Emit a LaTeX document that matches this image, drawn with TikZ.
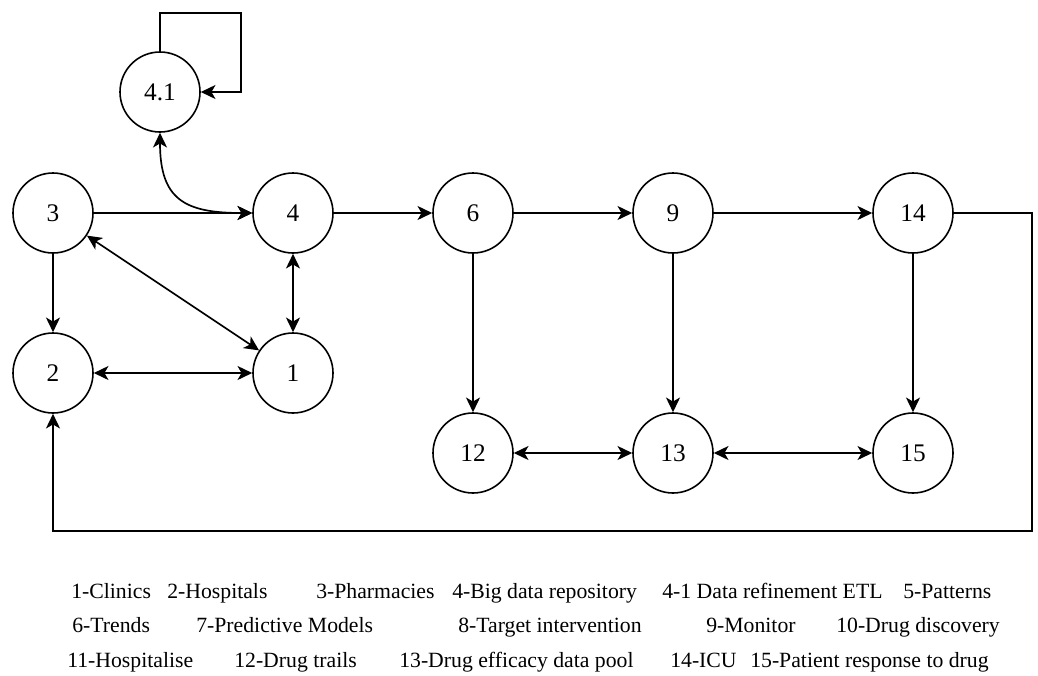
\documentclass[tikz,border=0pt]{standalone}
\usepackage{fontspec}
\setmainfont{Liberation Serif}
\usetikzlibrary{arrows.meta}
\begin{document}
\begin{tikzpicture}[x=0.75pt,y=-0.75pt,
  stn/.style={circle,draw,line width=1.2pt,minimum size=60pt,inner sep=0pt,font=\fontsize{19}{21}\selectfont},
  conn/.style={line width=1.25pt,-{Stealth[length=11pt,width=10.5pt,inset=3pt]}},
  bconn/.style={line width=1.25pt,{Stealth[length=11pt,width=10.5pt,inset=3pt]}-{Stealth[length=11pt,width=10.5pt,inset=3pt]}},
  leg/.style={anchor=base west,inner sep=0pt,font=\fontsize{16.3}{19}\selectfont}]
\useasboundingbox (0,0) rectangle (1038,675);
% nodes
\node[stn] (n41) at (160,92) {4.1};
\node[stn] (n3) at (53,213) {3};
\node[stn] (n4) at (293,213) {4};
\node[stn] (n6) at (473,213) {6};
\node[stn] (n9) at (673,213) {9};
\node[stn] (n14) at (913,213) {14};
\node[stn] (n2) at (53,373) {2};
\node[stn] (n1) at (293,373) {1};
\node[stn] (n12) at (473,453) {12};
\node[stn] (n13) at (673,453) {13};
\node[stn] (n15) at (913,453) {15};
% connectors
\draw[conn] (n41.north) -- (160,13) -- (241,13) -- (241,92) -- (n41.east);
\draw[bconn] (n41.south) .. controls (160,200) and (185,213) .. (n4.west);
\draw[conn] (n3) -- (n4);
\draw[conn] (n3) -- (n2);
\draw[bconn] (n3) -- (n1);
\draw[bconn] (n4) -- (n1);
\draw[bconn] (n2) -- (n1);
\draw[conn] (n4) -- (n6);
\draw[conn] (n6) -- (n9);
\draw[conn] (n9) -- (n14);
\draw[conn] (n6) -- (n12);
\draw[conn] (n9) -- (n13);
\draw[conn] (n14) -- (n15);
\draw[bconn] (n12) -- (n13);
\draw[bconn] (n13) -- (n15);
\draw[conn] (n14.east) -- (1032,213) -- (1032,531) -- (53,531) -- (n2.south);
% legend
\node[leg] (l1) at (71,598) {1-Clinics};
\node[leg] (l2) at (167,598) {2-Hospitals};
\node[leg] (l3) at (316,598) {3-Pharmacies};
\node[leg] (l4) at (452,598) {4-Big data repository};
\node[leg] (l41) at (662,598) {4-1 Data refinement ETL};
\node[leg] (l5) at (903,598) {5-Patterns};
\node[leg] (l6) at (72,632) {6-Trends};
\node[leg] (l7) at (196,632) {7-Predictive Models};
\node[leg] (l8) at (458,632) {8-Target intervention};
\node[leg] (l9) at (706,632) {9-Monitor};
\node[leg] (l10) at (836,632) {10-Drug discovery};
\node[leg] (l11) at (67,667) {11-Hospitalise};
\node[leg] (l12) at (234,667) {12-Drug trails};
\node[leg] (l13) at (399,667) {13-Drug efficacy data pool};
\node[leg] (l14) at (670,667) {14-ICU};
\node[leg] (l15) at (750,667) {15-Patient response to drug};
\end{tikzpicture}
\end{document}
